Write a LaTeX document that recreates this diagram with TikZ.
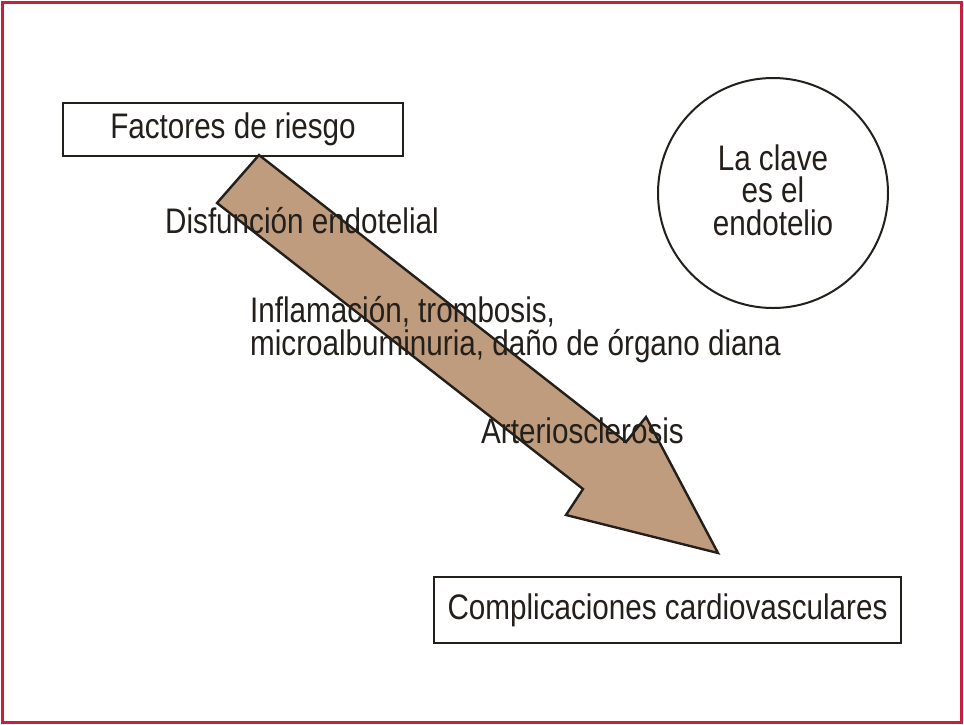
\documentclass[tikz,border=0pt]{standalone}
\usepackage{fontspec}
\setmainfont[FakeStretch=0.835]{Liberation Sans}
\definecolor{frame}{HTML}{C8203C}
\definecolor{ink}{HTML}{231F1A}
\definecolor{tan}{HTML}{C09C7F}
\begin{document}
\begin{tikzpicture}[x=1pt,y=-1pt,
  lbl/.style={font=\fontsize{35.5}{33}\selectfont, text=ink, inner sep=0pt},
  boxnode/.style={lbl, draw=ink, line width=2pt, rectangle},
  ring/.style={draw=ink, line width=2pt, circle, inner sep=0pt, minimum size=230pt}]
\useasboundingbox (0,0) rectangle (964,724);
\fill[white] (0,0) rectangle (964,724);
\draw[frame, line width=3pt] (2,2) rectangle (961.5,722);
% arrow
\coordinate (a1) at (259,155);
\coordinate (a2) at (626,442);
\coordinate (a3) at (646,417);
\coordinate (a4) at (718,553);
\coordinate (a5) at (566,515);
\coordinate (a6) at (583,489);
\coordinate (a7) at (217,203);
\filldraw[fill=tan, draw=ink, line width=2.4pt, line join=miter]
  (a1) -- (a2) -- (a3) -- (a4) -- (a5) -- (a6) -- (a7) -- cycle;
% boxes
\node[boxnode, minimum width=340pt, minimum height=53pt] (risk) at (233,129.5) {Factores de riesgo};
\node[boxnode, minimum width=467pt, minimum height=66pt] (comp) at (667.5,610) {Complicaciones cardiovasculares};
% circle
\node[ring] (key) at (773,193) {};
\node[lbl, align=center, font=\fontsize{35.5}{32.5}\selectfont] (keytxt) at (773,190) {La clave\\es el\\endotelio};
% labels on arrow
\node[lbl, anchor=base west] (dis) at (165,233) {Disfunción endotelial};
\node[lbl, anchor=north west, align=left] (infl) at (250,296.5) {Inflamación, trombosis,\\microalbuminuria, daño de órgano diana};
\node[lbl, anchor=base west] (arte) at (481,443) {Arteriosclerosis};
\end{tikzpicture}
\end{document}
